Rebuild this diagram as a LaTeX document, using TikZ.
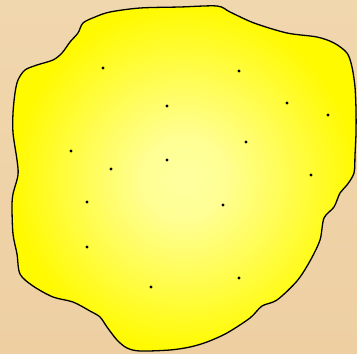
\documentclass[tikz,border=0pt]{standalone}
\usepackage{tikz}
\definecolor{SandBg}{RGB}{241,215,174}
\definecolor{SandBgDark}{RGB}{237,207,162}
\definecolor{PaleYellow}{RGB}{255,255,160}
\definecolor{BlobYellow}{RGB}{255,250,0}
\pgfdeclareradialshading{blobshade}{\pgfpoint{0bp}{0bp}}{color(0bp)=(PaleYellow); color(6bp)=(PaleYellow!92!BlobYellow); color(16bp)=(PaleYellow!45!BlobYellow); color(25bp)=(BlobYellow); color(50bp)=(BlobYellow)}

\begin{document}
\begin{tikzpicture}[x=1pt,y=-1pt]
\tikzset{seed/.style={circle,fill=black,inner sep=0pt,minimum size=3.2pt},blob/.style={draw=black,line width=1.3pt,shading=blobshade}}
\fill[top color=SandBg,bottom color=SandBgDark] (0,0) rectangle (357,354);
\useasboundingbox (0,0) rectangle (357,354);
\draw[blob] plot[smooth cycle,tension=0.5] coordinates {
(110,12) (140,8) (180,7) (217,6) (230,12) (254,23) (287,33) (317,37) (334,43) (347,53)
(352,67) (355,87) (356,110) (356,133) (355,155) (354,173) (347,185) (340,193) (334,207)
(324,218) (320,240) (310,261) (297,281) (277,300) (262,306) (250,318) (227,333) (207,342)
(190,347) (170,350) (140,351) (127,348) (117,340) (107,327) (100,317) (90,311) (73,302)
(53,297) (33,286) (20,274) (17,254) (13,234) (12,207) (13,194) (18,175) (17,160) (13,133)
(13,113) (15,93) (18,80) (25,70) (37,65) (53,60) (62,53) (70,42) (78,33) (83,23) (95,17)};
\foreach \x/\y [count=\i] in {103/68,239/71,167/106,287/103,328/115,71/151,246/142,167/160,111/169,311/175,87/202,223/205,87/247,239/278,151/287}
  \node[seed] (p\i) at (\x,\y) {};
\end{tikzpicture}
\end{document}
